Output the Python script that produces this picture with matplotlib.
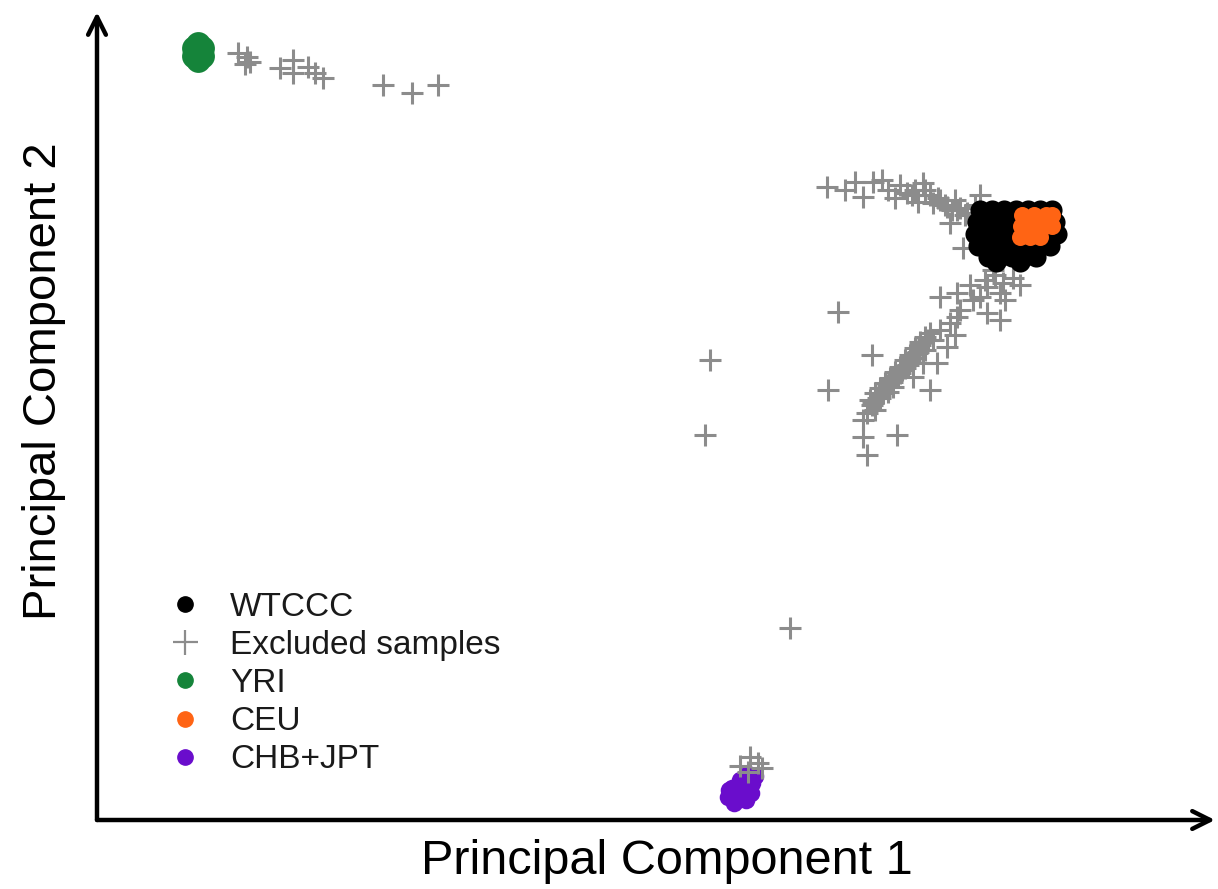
import matplotlib
matplotlib.use("Agg")
import matplotlib.pyplot as plt
from matplotlib.lines import Line2D

plt.rcParams['font.family'] = ['Liberation Sans', 'DejaVu Sans']

# ---- data (PC1, PC2 in arbitrary units) ----
yri_pc1 = [97, 105, 97, 105, 101, 101, 101]
yri_pc2 = [772, 772, 764, 764, 768, 776, 760]

chb_pc1 = [631, 635, 643, 651, 641, 648, 655, 643, 637, 645, 637, 649, 654, 632, 658]
chb_pc2 = [23, 32, 40, 46, 22, 28, 37, 30, 17, 35, 25, 20, 27, 30, 44]

wtccc_pc1 = [883, 895, 907, 919, 931, 943, 955,
             880, 892, 904, 916, 958,
             878, 890, 902, 914, 960,
             881, 893, 905, 917, 929, 941, 953,
             891, 903, 915, 927, 939,
             899, 923]
wtccc_pc2 = [610, 610, 610, 610, 610, 610, 610,
             598, 598, 598, 598, 598,
             586, 586, 586, 586, 586,
             574, 574, 574, 574, 574, 574, 574,
             563, 563, 563, 563, 563,
             558, 558]

ceu_pc1 = [925, 937, 949, 955, 924, 936, 948, 955, 923, 933, 943]
ceu_pc2 = [605, 605, 605, 605, 594, 594, 594, 594, 583, 583, 583]

excl_pc1 = [
    # near YRI
    141, 150, 148, 153, 183, 196, 196, 211, 218, 226, 286, 315, 341,
    # upper arm
    730, 758, 766, 776, 785, 791, 803, 810, 826, 821, 836, 850, 860, 870, 883, 866,
    853, 843, 815, 833, 858, 878, 748, 798,
    848, 855, 863, 868, 841, 828, 818,
    # lower arm
    896, 916, 906, 890, 883, 860, 843, 863, 890, 903, 853, 836, 820, 813, 803, 796,
    786, 776, 770, 766, 766, 800, 770, 840, 833, 850, 816, 826, 860, 876, 903, 828,
    808, 793, 783, 843, 858, 873, 888, 778, 791, 823, 908, 923, 898,
    773, 778, 783, 788, 793, 798, 803, 808, 813, 818, 823, 828, 833, 775, 781, 791,
    801, 811, 821, 831, 783, 795, 805, 815,
    # outliers
    741, 775, 731, 613, 608, 693,
    # near CHB+JPT
    653, 643, 661, 665, 651,
]
excl_pc2 = [
    767, 763, 756, 758, 752, 760, 747, 753, 747, 742, 735, 727, 735,
    633, 638, 623, 638, 640, 630, 635, 627, 637, 618, 617, 613, 610, 607, 625, 572,
    597, 620, 625, 625, 620, 615, 630, 622,
    615, 610, 612, 605, 622, 630, 630,
    550, 542, 537, 533, 523, 527, 523, 510, 507, 500, 497, 480, 467, 460, 447, 433,
    427, 417, 407, 400, 383, 385, 365, 457, 430, 473, 443, 457, 503, 520, 527, 470,
    452, 440, 422, 490, 485, 535, 540, 410, 428, 475, 520, 535, 545,
    420, 427, 432, 437, 442, 448, 453, 460, 465, 472, 478, 483, 487, 415, 422, 435,
    445, 455, 468, 480, 425, 438, 450, 462,
    508, 465, 430, 460, 385, 192,
    63, 54, 57, 52, 48,
]

labels = ["WTCCC", "Excluded samples", "YRI", "CEU", "CHB+JPT"]
colors = {"WTCCC": "#000000", "Excluded samples": "#8c8c8c", "YRI": "#15843a",
          "CEU": "#ff6414", "CHB+JPT": "#6a0dcc"}

fig = plt.figure(figsize=(12.18, 8.89), dpi=100)
ax = fig.add_axes([97 / 1218, 69 / 889, 1118 / 1218, 808 / 889])
ax.set_xlim(0, 1118)
ax.set_ylim(0, 808)

ax.scatter(chb_pc1, chb_pc2, s=160, c=colors["CHB+JPT"], lw=0, zorder=2)
ax.scatter(excl_pc1, excl_pc2, s=260, marker='+', c=colors["Excluded samples"],
           linewidths=2.2, zorder=3)
ax.scatter(wtccc_pc1, wtccc_pc2, s=210, c=colors["WTCCC"], lw=0, zorder=4)
ax.scatter(ceu_pc1, ceu_pc2, s=150, c=colors["CEU"], lw=0, zorder=5)
ax.scatter(yri_pc1, yri_pc2, s=320, c=colors["YRI"], lw=0, zorder=6)

for sp in ax.spines.values():
    sp.set_visible(False)
ax.set_xticks([])
ax.set_yticks([])

# axis arrows
ax.annotate("", xy=(1.0, 0), xytext=(0, 0), xycoords='axes fraction',
            arrowprops=dict(arrowstyle='->', lw=3.2, color='black', mutation_scale=32,
                            shrinkA=0, shrinkB=0))
ax.annotate("", xy=(0, 1.0), xytext=(0, 0), xycoords='axes fraction',
            arrowprops=dict(arrowstyle='->', lw=3.2, color='black', mutation_scale=32,
                            shrinkA=0, shrinkB=0))

ax.set_xlabel("Principal Component 1", fontsize=35)
ax.set_ylabel("Principal Component 2", fontsize=34)
ax.xaxis.set_label_coords(0.51, -0.023)
ax.yaxis.set_label_coords(-0.0274, 0.543)

handles = []
for lab in labels:
    if lab == "Excluded samples":
        handles.append(Line2D([], [], ls='none', marker='+', markersize=18, mew=1.6,
                              color=colors[lab], label=lab))
    else:
        handles.append(Line2D([], [], ls='none', marker='o', markersize=11,
                              color=colors[lab], label=lab))
leg = ax.legend(handles=handles, loc='upper left', bbox_to_anchor=(0.052, 0.299),
                borderaxespad=0, frameon=False, fontsize=24, labelspacing=0.215,
                handletextpad=0.85, handlelength=1.0)
for t in leg.get_texts():
    t.set_color('#1a1a1a')

fig.savefig("out.png", dpi=100)
